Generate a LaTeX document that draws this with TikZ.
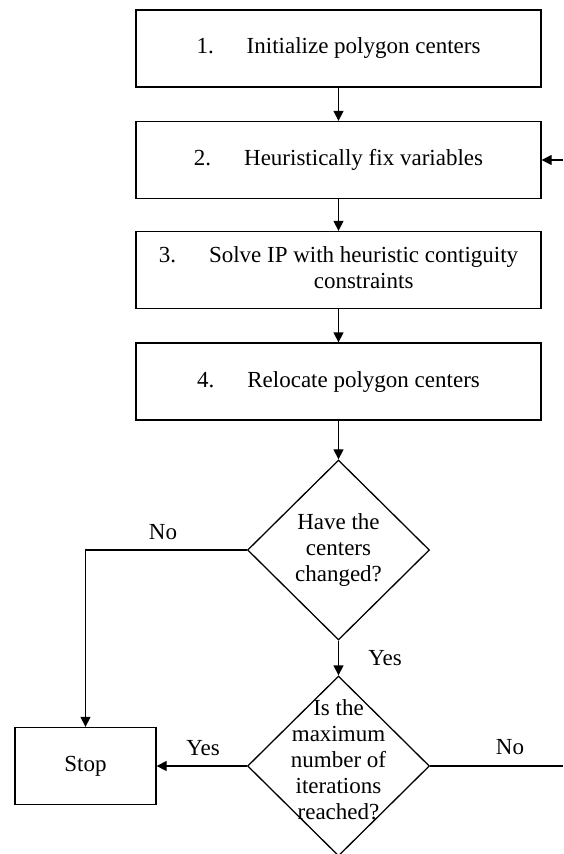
\documentclass[tikz,border=0pt]{standalone}
\usepackage{fontspec}
\setmainfont{Liberation Serif}
\usetikzlibrary{shapes.geometric,arrows.meta}

\tikzset{
	stepbox/.style={draw, line width=1.3pt, minimum width=405pt, minimum height=77pt, inner sep=0pt},
	decision/.style={draw, diamond, aspect=1, line width=1.3pt, minimum width=182pt, minimum height=180pt, inner sep=0pt},
	flow/.style={line width=1.3pt, -{Triangle[length=10pt,width=10pt]}},
	answer/.style={inner sep=0pt},
}

\begin{document}
\begin{tikzpicture}[x=1pt, y=-1pt, font=\fontsize{23}{26}\selectfont]
		\useasboundingbox (0,0) rectangle (563,854);
		% steps
		\node[stepbox] (init) at (338.5,48.5) {1.\hspace{33pt}Initialize polygon centers};
		\node[stepbox] (fix) at (338.5,160) {2.\hspace{33pt}Heuristically fix variables};
		\node[stepbox] (solve) at (338.5,270) {\begin{tabular}{@{}l@{\hspace{33pt}}c@{}}3. & Solve IP with heuristic contiguity\\ & constraints\end{tabular}};
		\node[stepbox] (relocate) at (338.5,381.5) {4.\hspace{33pt}Relocate polygon centers};
		% decisions
		\node[decision, label={[name=changedtext, align=center]center:Have the\\centers\\changed?}] (changed) at (338.5,550) {};
		\node[decision, label={[name=maxtext, align=center, yshift=6pt]center:Is the\\maximum\\number of\\iterations\\reached?}] (maxiter) at (338.5,766) {};
		\node[draw, line width=1.3pt, minimum width=141pt, minimum height=77pt, inner sep=0pt] (stop) at (85.5,766) {Stop};
		\coordinate (loopout) at (563,766);
		\coordinate (loopin) at (563,160);
		% connectors
		\draw[flow] (init) -- (fix);
		\draw[flow] (fix) -- (solve);
		\draw[flow] (solve) -- (relocate);
		\draw[flow] (relocate) -- (changed);
		\draw[flow] (changed) -- (maxiter);
		\draw[flow] (changed.west) -| (stop);
		\draw[flow] (maxiter.west) -- (stop.east);
		\draw[line width=1.3pt] (maxiter.east) -- (loopout);
		\draw[flow] (loopin) -- (fix.east);
		% answers
		\node[answer] (nochanged) at (163,532) {No};
		\node[answer] (yeschanged) at (385,658) {Yes};
		\node[answer] (yesmax) at (203,748) {Yes};
		\node[answer] (nomax) at (510,747) {No};
	\end{tikzpicture}
\end{document}
